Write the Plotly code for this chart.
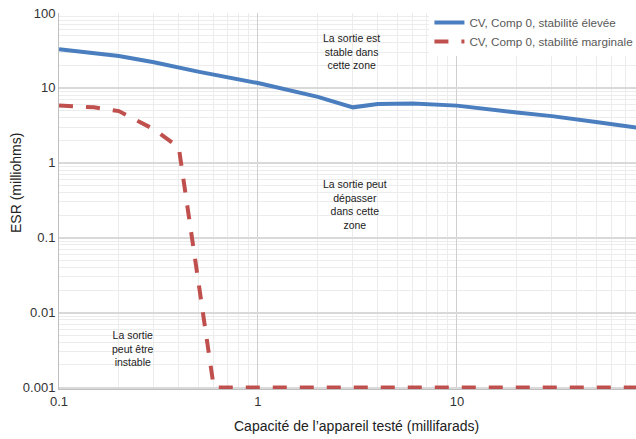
import numpy as np
import plotly.graph_objects as go

# Data
cap_high = [0.1, 0.2, 0.3, 0.5, 1, 2, 3, 4, 6, 10, 20, 30, 50, 80]
esr_high = [32.8, 26.7, 22.0, 16.5, 11.6, 7.6, 5.5, 6.1, 6.2, 5.8, 4.7, 4.2, 3.5, 2.95]

cap_marg = [0.1, 0.15, 0.2, 0.3, 0.4, 0.6, 80]
esr_marg = [5.8, 5.5, 4.9, 2.8, 1.6, 0.001, 0.001]

name_high = "CV, Comp 0, stabilité élevée"
name_marg = "CV, Comp 0, stabilité marginale"

y_ticks = [0.001, 0.01, 0.1, 1, 10, 100]
y_ticklabels = ["0.001", "0.01", "0.1", "1", "10", "100"]
x_ticks = [0.1, 1, 10]
x_ticklabels = ["0.1", "1", "10"]

BLUE = "#4a7ebf"
RED = "#c0504d"
FONT = "Liberation Sans, Arial, Helvetica, sans-serif"

fig = go.Figure()
fig.add_trace(go.Scatter(x=cap_high, y=esr_high, mode="lines", name=name_high,
                         line=dict(color=BLUE, width=4)))
fig.add_trace(go.Scatter(x=cap_marg, y=esr_marg, mode="lines", name=name_marg,
                         line=dict(color=RED, width=4, dash="14px,13px")))

fig.update_layout(
    width=636, height=439,
    margin=dict(l=59, r=0, t=13, b=50, autoexpand=False),
    paper_bgcolor="white", plot_bgcolor="white",
    font=dict(family=FONT, size=13, color="#333333"),
    legend=dict(x=0.642, y=1.013, xanchor="left", yanchor="top",
                bgcolor="white", borderwidth=0,
                font=dict(size=11.7, color="#595959"),
                tracegroupgap=0),
    showlegend=True,
)

fig.update_xaxes(
    type="log", range=[-1, 1.9],
    tickvals=x_ticks, ticktext=x_ticklabels,
    showgrid=True, gridcolor="#cfcfcf", gridwidth=1,
    minor=dict(tickvals=[v * m for v in [0.1, 1, 10] for m in range(2, 10)],
               showgrid=True, gridcolor="#ececec", gridwidth=1, ticks=""),
    showline=True, linecolor="#bfbfbf", linewidth=1,
    ticks="", zeroline=False, automargin=False,
    tickfont=dict(size=13, color="#333333"),
)
fig.update_yaxes(
    type="log", range=[-3.02, 2],
    tickvals=y_ticks, ticktext=y_ticklabels,
    showgrid=True, gridcolor="#d9d9d9", gridwidth=1.5,
    minor=dict(tickvals=[v * m for v in [0.001, 0.01, 0.1, 1, 10] for m in range(2, 10)],
               showgrid=True, gridcolor="#ececec", gridwidth=1, ticks=""),
    showline=True, linecolor="#bfbfbf", linewidth=1,
    ticks="", zeroline=False, automargin=False,
    tickfont=dict(size=13, color="#333333"),
)

# Axis titles as annotations (positioned as in reference)
fig.add_annotation(text="Capacité de l’appareil testé (millifarads)",
                   xref="paper", yref="paper", x=0.515, y=0, yshift=-27,
                   xanchor="center", yanchor="top", showarrow=False,
                   font=dict(size=14, color="#222222"))
fig.add_annotation(text="ESR (milliohms)", textangle=-90,
                   xref="paper", yref="paper", x=-0.0745, y=0.548,
                   xanchor="center", yanchor="middle", showarrow=False,
                   font=dict(size=14, color="#222222"))

notes = [
    ("La sortie est<br>stable dans<br>cette zone", 0.471, 1.487),
    ("La sortie peut<br>dépasser<br>dans cette<br>zone", 0.49, -0.553),
    ("La sortie<br>peut être<br>instable", -0.628, -2.48),
]
for txt, lx, ly in notes:
    fig.add_annotation(text=txt, x=lx, y=ly, xref="x", yref="y",
                       showarrow=False, align="center",
                       font=dict(size=10.5, color="#222222"))

fig.write_html("out.html",
               config={"displayModeBar": False},
               post_script="document.body.style.margin='0';document.body.style.overflow='hidden';")
